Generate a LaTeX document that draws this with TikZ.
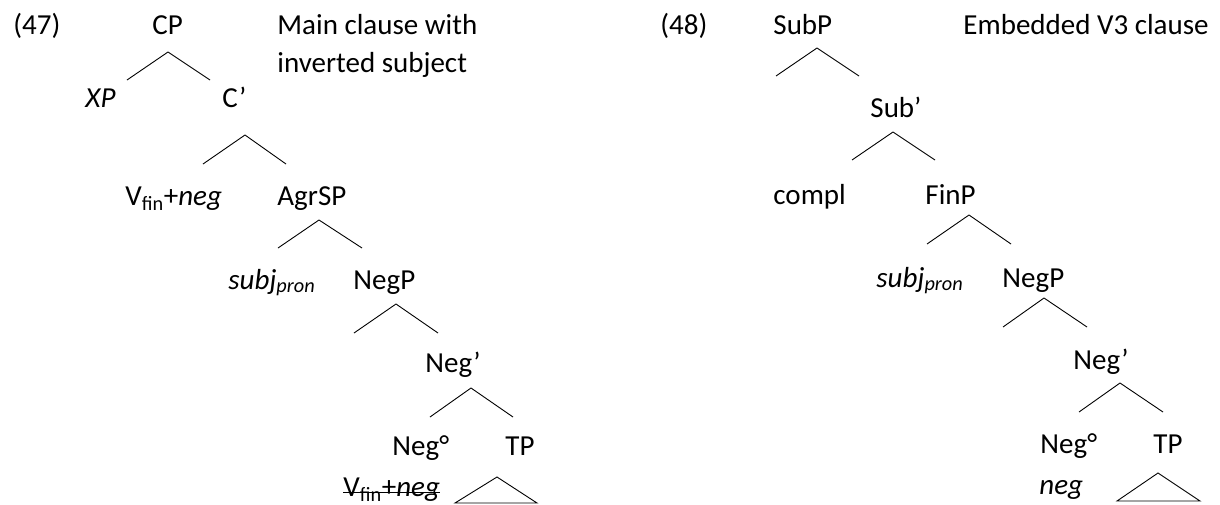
\documentclass[tikz,border=0pt]{standalone}
\usepackage{fontspec}
\setmainfont{Carlito}

\begin{document}
\begin{tikzpicture}[x=1pt,y=-1pt,line width=0.9pt,
    word/.style={anchor=base west,inner sep=0pt,font=\fontsize{29}{38}\selectfont}]
    \useasboundingbox (0,0) rectangle (1220,504);

    % (47) main clause
    \node[word] (ex47) at (13,34) {(47)};
    \node[word,align=left] (title47) at (277,72) {Main clause with\\inverted subject};
    \node[word] (cp) at (152,34) {CP};
    \node[word] (xp) at (85,107) {\textit{XP}};
    \node[word] (cbar) at (222,107) {C’};
    \node[word] (vfin) at (125,205) {V\textsubscript{fin}+\textit{neg}};
    \node[word] (agrsp) at (277,205) {AgrSP};
    \node[word] (subj) at (228,289) {\textit{subj\textsubscript{pron}}};
    \node[word] (negp) at (353,289) {NegP};
    \node[word] (negbar) at (425,372) {Neg’};
    \node[word] (neghead) at (392,455) {Neg°};
    \node[word] (tp) at (505,455) {TP};
    \node[word] (vstruck) at (343,496) {V\textsubscript{fin}+\textit{neg}};

    \coordinate (cp-fork) at (168,52);
    \coordinate (cbar-fork) at (245,135);
    \coordinate (agrsp-fork) at (319,220);
    \coordinate (negp-fork) at (396,304);
    \coordinate (negbar-fork) at (471,388);
    \coordinate (tp-top) at (497,477);

    \draw (cp-fork) -- ++(-41,28) (cp-fork) -- ++(42,28);
    \draw (cbar-fork) -- ++(-42,29) (cbar-fork) -- ++(41,29);
    \draw (agrsp-fork) -- ++(-41,28) (agrsp-fork) -- ++(43,28);
    \draw (negp-fork) -- ++(-42,29) (negp-fork) -- ++(42,29);
    \draw (negbar-fork) -- ++(-41,29) (negbar-fork) -- ++(42,29);
    \draw (tp-top) -- ++(-42,26) -- ++(82,0) -- cycle;
    \draw ([yshift=4pt]vstruck.base west) -- ([yshift=4pt]vstruck.base east);

    % (48) embedded V3 clause
    \node[word] (ex48) at (660,34) {(48)};
    \node[word] (title48) at (963,34) {Embedded V3 clause};
    \node[word] (subp) at (773,34) {SubP};
    \node[word] (subbar) at (870,117) {Sub’};
    \node[word] (compl) at (773,204) {compl};
    \node[word] (finp) at (925,204) {FinP};
    \node[word] (subj2) at (876,287) {\textit{subj\textsubscript{pron}}};
    \node[word] (negp2) at (1002,287) {NegP};
    \node[word] (negbar2) at (1073,369) {Neg’};
    \node[word] (neghead2) at (1040,453) {Neg°};
    \node[word] (tp2) at (1153,453) {TP};
    \node[word] (neg2) at (1039,494) {\textit{neg}};

    \coordinate (subp-fork) at (817,48);
    \coordinate (subbar-fork) at (893,132);
    \coordinate (finp-fork) at (969,215);
    \coordinate (negp2-fork) at (1044,298);
    \coordinate (negbar2-fork) at (1120,383);
    \coordinate (tp2-top) at (1158,473);

    \draw (subp-fork) -- ++(-41,28) (subp-fork) -- ++(42,28);
    \draw (subbar-fork) -- ++(-41,28) (subbar-fork) -- ++(42,28);
    \draw (finp-fork) -- ++(-42,29) (finp-fork) -- ++(42,29);
    \draw (negp2-fork) -- ++(-41,29) (negp2-fork) -- ++(43,29);
    \draw (negbar2-fork) -- ++(-41,29) (negbar2-fork) -- ++(43,29);
    \draw (tp2-top) -- ++(-41,28) -- ++(83,0) -- cycle;
\end{tikzpicture}
\end{document}
